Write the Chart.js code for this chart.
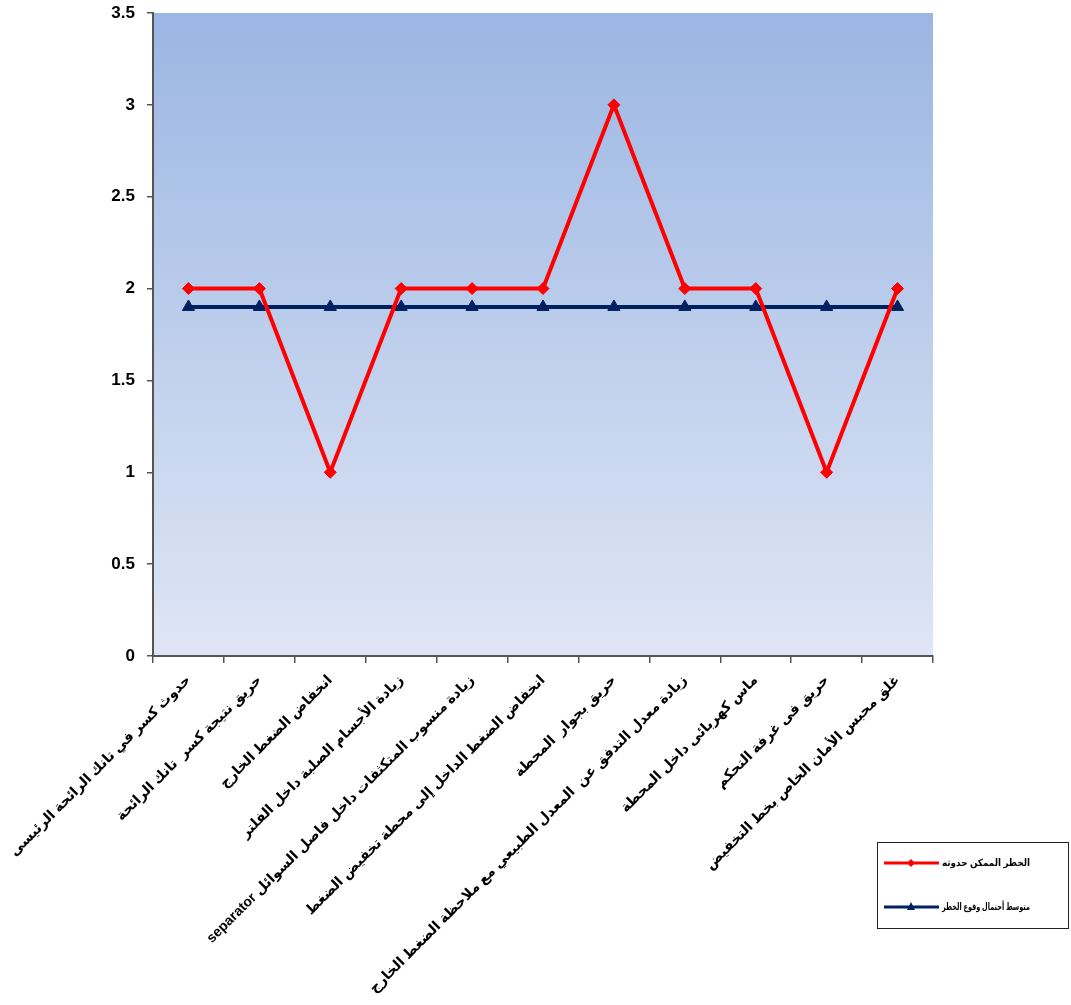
<!DOCTYPE html>
<html>
<head>
<meta charset="utf-8">
<script src="https://cdn.jsdelivr.net/npm/chart.js@4"></script>
<style>
html,body{margin:0;padding:0;background:#fff;}
canvas{display:block;}
</style>
</head>
<body>
<canvas id="c" width="1071" height="1005" dir="rtl"></canvas>
<script>
const categories = [
  "حدوث كسر في تانك الرائحة الرئيسى",
  "حريق نتيجة كسر  تانك الرائحة",
  "انخفاض الضغط الخارج",
  "زيادة الأجسام الصلبة داخل الفلتر",
  "زيادة منسوب المتكثفات داخل فاصل السوائل separator",
  "انخفاض الضغط الداخل إلى محطة تخفيض الضغط",
  "حريق بجوار  المحطة",
  "زيادة معدل التدفق عن  المعدل الطبيعي مع ملاحظة الضغط الخارج",
  "ماس كهربائى داخل المحطة",
  "حريق فى غرفة التحكم",
  "غلق محبس الأمان الخاص بخط التخفيض"
];
const riskLabel = "الخطر الممكن حدوثه";
const riskValues = [2, 2, 1, 2, 2, 2, 3, 2, 2, 1, 2];
const avgLabel = "متوسط أحتمال وقوع الخطر";
const avgValues = [1.9, 1.9, 1.9, 1.9, 1.9, 1.9, 1.9, 1.9, 1.9, 1.9, 1.9];
const yTicks = [0, 0.5, 1, 1.5, 2, 2.5, 3, 3.5];

const bgPlugin = {
  id: 'bg',
  beforeDraw(chart) {
    const {ctx, chartArea: a} = chart;
    const g = ctx.createLinearGradient(0, a.top, 0, a.bottom);
    g.addColorStop(0, '#9bb6e3');
    g.addColorStop(1, '#dfe6f5');
    ctx.save();
    ctx.fillStyle = g;
    ctx.fillRect(a.left, a.top, a.right - a.left, a.bottom - a.top);
    ctx.restore();
  }
};

const legendPlugin = {
  id: 'boxLegend',
  afterDraw(chart) {
    const ctx = chart.ctx;
    const bx = 877, by = 842, bw = 191, bh = 86;
    ctx.save();
    ctx.fillStyle = '#ffffff';
    ctx.fillRect(bx, by, bw, bh);
    ctx.strokeStyle = '#222';
    ctx.lineWidth = 1;
    ctx.strokeRect(bx + 0.5, by + 0.5, bw, bh);
    const rows = [863, 907];
    chart.data.datasets.forEach((ds, i) => {
      const y = rows[i];
      ctx.strokeStyle = ds.borderColor;
      ctx.lineWidth = 3;
      ctx.beginPath();
      ctx.moveTo(884, y);
      ctx.lineTo(939, y);
      ctx.stroke();
      ctx.fillStyle = ds.borderColor;
      ctx.beginPath();
      if (ds.pointStyle === 'rectRot') {
        ctx.moveTo(911, y - 4); ctx.lineTo(915, y); ctx.lineTo(911, y + 4); ctx.lineTo(907, y);
      } else {
        ctx.moveTo(911, y - 5); ctx.lineTo(915, y + 3); ctx.lineTo(907, y + 3);
      }
      ctx.closePath();
      ctx.fill();
      ctx.fillStyle = '#000';
      ctx.font = 'bold 10px Arial, "DejaVu Sans", sans-serif';
      ctx.textBaseline = 'middle';
      ctx.textAlign = 'left';
      const w = ctx.measureText(ds.label).width;
      const sx = Math.min(1, 88 / w);
      ctx.save();
      ctx.translate(942, y);
      ctx.scale(sx, 1);
      ctx.fillText(ds.label, 0, 0);
      ctx.restore();
    });
    ctx.restore();
  }
};

new Chart(document.getElementById('c'), {
  type: 'line',
  data: {
    labels: categories,
    datasets: [
      {
        label: riskLabel,
        data: riskValues,
        borderColor: '#ff0000',
        backgroundColor: '#ff0000',
        borderWidth: 4,
        pointStyle: 'rectRot',
        pointRadius: 6,
        pointBorderWidth: 1,
        tension: 0
      },
      {
        label: avgLabel,
        data: avgValues,
        borderColor: '#002060',
        backgroundColor: '#002060',
        borderWidth: 4,
        pointStyle: 'triangle',
        pointRadius: 7,
        pointBorderWidth: 1,
        tension: 0
      }
    ]
  },
  options: {
    responsive: false,
    animation: false,
    devicePixelRatio: 1,
    layout: { padding: { left: 0, right: 138, top: 13, bottom: 0 } },
    plugins: { legend: { display: false }, tooltip: { enabled: false } },
    scales: {
      x: {
        offset: true,
        grid: { offset: true, drawOnChartArea: false, drawTicks: true, tickLength: 7, color: '#555', lineWidth: 1.5 },
        border: { color: '#555', width: 2 },
        ticks: {
          autoSkip: false,
          minRotation: 45,
          maxRotation: 45,
          padding: 9,
          color: '#000',
          font: { family: 'Arial, "DejaVu Sans", sans-serif', size: 14, weight: 'bold' }
        },
        afterFit(s) { s.height = 349; s.paddingLeft = 0; s.paddingRight = 0; }
      },
      y: {
        min: 0,
        max: 3.5,
        afterBuildTicks(s) { s.ticks = yTicks.map(v => ({ value: v })); },
        grid: { drawOnChartArea: false, drawTicks: true, tickLength: 6, color: '#555', lineWidth: 1.5 },
        border: { color: '#555', width: 2 },
        ticks: {
          padding: 12,
          color: '#000',
          font: { family: 'Arial, "Liberation Sans", sans-serif', size: 17, weight: 'bold' },
          callback: (v) => String(v)
        },
        afterFit(s) { s.width = 153; s.paddingTop = 0; s.paddingBottom = 0; }
      }
    }
  },
  plugins: [bgPlugin, legendPlugin]
});
</script>
</body>
</html>
